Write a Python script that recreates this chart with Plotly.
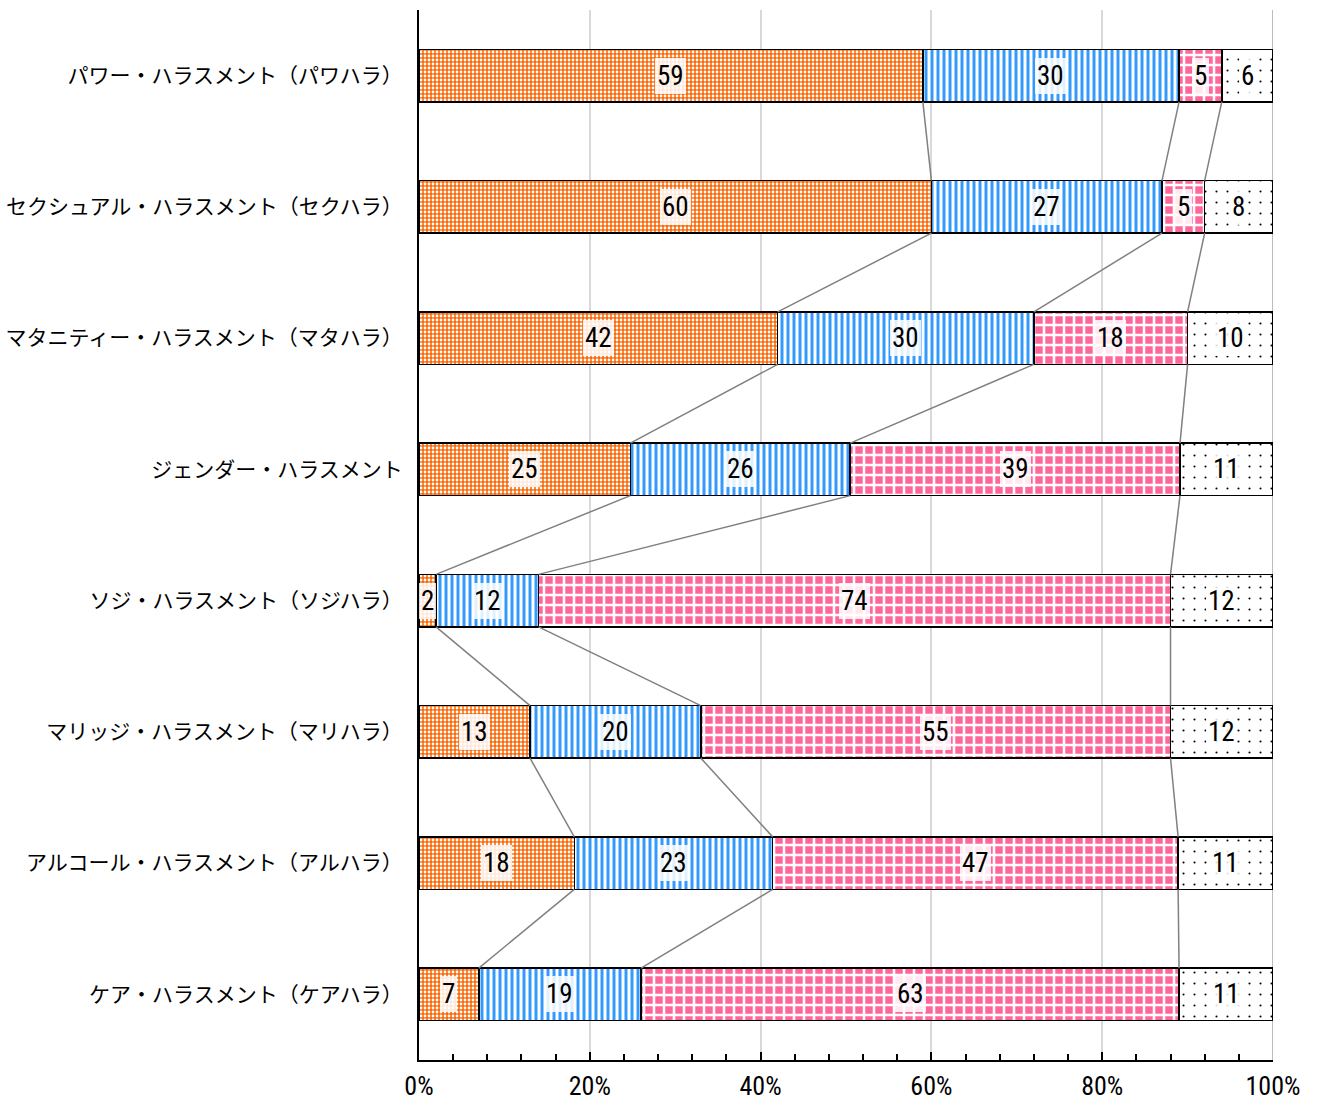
import numpy as np
import plotly.graph_objects as go

# Survey categories (top to bottom) and answer shares for the four response groups
categories = [
    "パワー・ハラスメント（パワハラ）",
    "セクシュアル・ハラスメント（セクハラ）",
    "マタニティー・ハラスメント（マタハラ）",
    "ジェンダー・ハラスメント",
    "ソジ・ハラスメント（ソジハラ）",
    "マリッジ・ハラスメント（マリハラ）",
    "アルコール・ハラスメント（アルハラ）",
    "ケア・ハラスメント（ケアハラ）",
]
group1 = [59, 60, 42, 25, 2, 13, 18, 7]
group2 = [30, 27, 30, 26, 12, 20, 23, 19]
group3 = [5, 5, 18, 39, 74, 55, 47, 63]
group4 = [6, 8, 10, 11, 12, 12, 11, 11]
x_ticks = [0, 20, 40, 60, 80, 100]
x_tick_labels = ["0%", "20%", "40%", "60%", "80%", "100%"]

series = [group1, group2, group3, group4]
styles = [
    dict(shape=".", fgcolor="#FFFFFF", bgcolor="#F86A0A", size=4, solidity=0.38),
    dict(shape="|", fgcolor="#3399FF", bgcolor="#FFFFFF", size=6, solidity=0.5),
    dict(shape="+", fgcolor="#FFFFFF", bgcolor="#FF6699", size=10, solidity=0.45),
    dict(shape=".", fgcolor="#000000", bgcolor="#FFFFFF", size=11, solidity=0.03),
]

pos = np.arange(len(categories))
bar_w = 0.4
num_font = "Liberation Sans Narrow, Arial Narrow, Roboto Condensed, sans-serif"

fig = go.Figure()

# Series lines joining the segment boundaries of neighbouring bars
vals = np.array(series, dtype=float)
pct = vals / vals.sum(axis=0) * 100
cum = np.cumsum(pct, axis=0)
lx, ly = [], []
for k in range(len(series) - 1):
    for i in range(len(categories) - 1):
        lx += [cum[k, i], cum[k, i + 1], None]
        ly += [pos[i] + bar_w / 2, pos[i + 1] - bar_w / 2, None]
fig.add_trace(go.Scatter(
    x=lx, y=ly, mode="lines", line=dict(color="#808080", width=1.5),
    hoverinfo="skip", showlegend=False,
))

for vals_k, st in zip(series, styles):
    fig.add_trace(go.Bar(
        y=pos, x=vals_k, orientation="h", width=bar_w,
        marker=dict(
            color=st["bgcolor"],
            line=dict(color="#000000", width=1.5),
            pattern=dict(shape=st["shape"], fgcolor=st["fgcolor"], bgcolor=st["bgcolor"],
                         size=st["size"], solidity=st["solidity"], fillmode="replace"),
        ),
        hovertemplate="%{x}<extra></extra>",
        showlegend=False,
    ))

# Value labels centred in each segment, on a soft white backing
mid = cum - pct / 2
annotations = []
for k, vals_k in enumerate(series):
    for i, v in enumerate(vals_k):
        annotations.append(dict(
            x=mid[k, i], y=pos[i], xref="x", yref="y", text=str(v), showarrow=False,
            font=dict(family=num_font, size=27, color="#000000"),
            bgcolor="rgba(255,255,255,0.85)", borderpad=2, borderwidth=0,
        ))

fig.update_layout(
    barmode="stack", barnorm="percent",
    width=1319, height=1101,
    margin=dict(l=419, r=46, t=10, b=41, autoexpand=False),
    plot_bgcolor="#FFFFFF", paper_bgcolor="#FFFFFF",
    showlegend=False,
    annotations=annotations,
)
fig.update_xaxes(
    range=[0, 100], tickvals=x_ticks, ticktext=x_tick_labels,
    showgrid=True, gridcolor="#D9D9D9", gridwidth=1.5,
    showline=True, linecolor="#000000", linewidth=2,
    ticks="inside", ticklen=8, tickwidth=1.5, tickcolor="#000000",
    minor=dict(dtick=4, ticks="inside", ticklen=6, tickwidth=1.5, tickcolor="#000000", showgrid=False),
    tickfont=dict(family=num_font, size=26, color="#000000"),
    ticklabelstandoff=2, zeroline=False, automargin=False,
)
fig.update_yaxes(
    range=[len(categories) - 0.5, -0.5], tickvals=pos, ticktext=categories,
    showgrid=False, showline=True, linecolor="#000000", linewidth=2,
    ticks="", tickfont=dict(family="Noto Sans CJK JP", size=21, color="#000000"),
    ticklabelstandoff=10, zeroline=False, automargin=False,
)
# Right-hand frame at 100%
fig.add_shape(type="line", xref="x", yref="paper", x0=100, x1=100, y0=0, y1=1,
              line=dict(color="#A6A6A6", width=1.5), layer="below")

fig.write_html("out.html")
